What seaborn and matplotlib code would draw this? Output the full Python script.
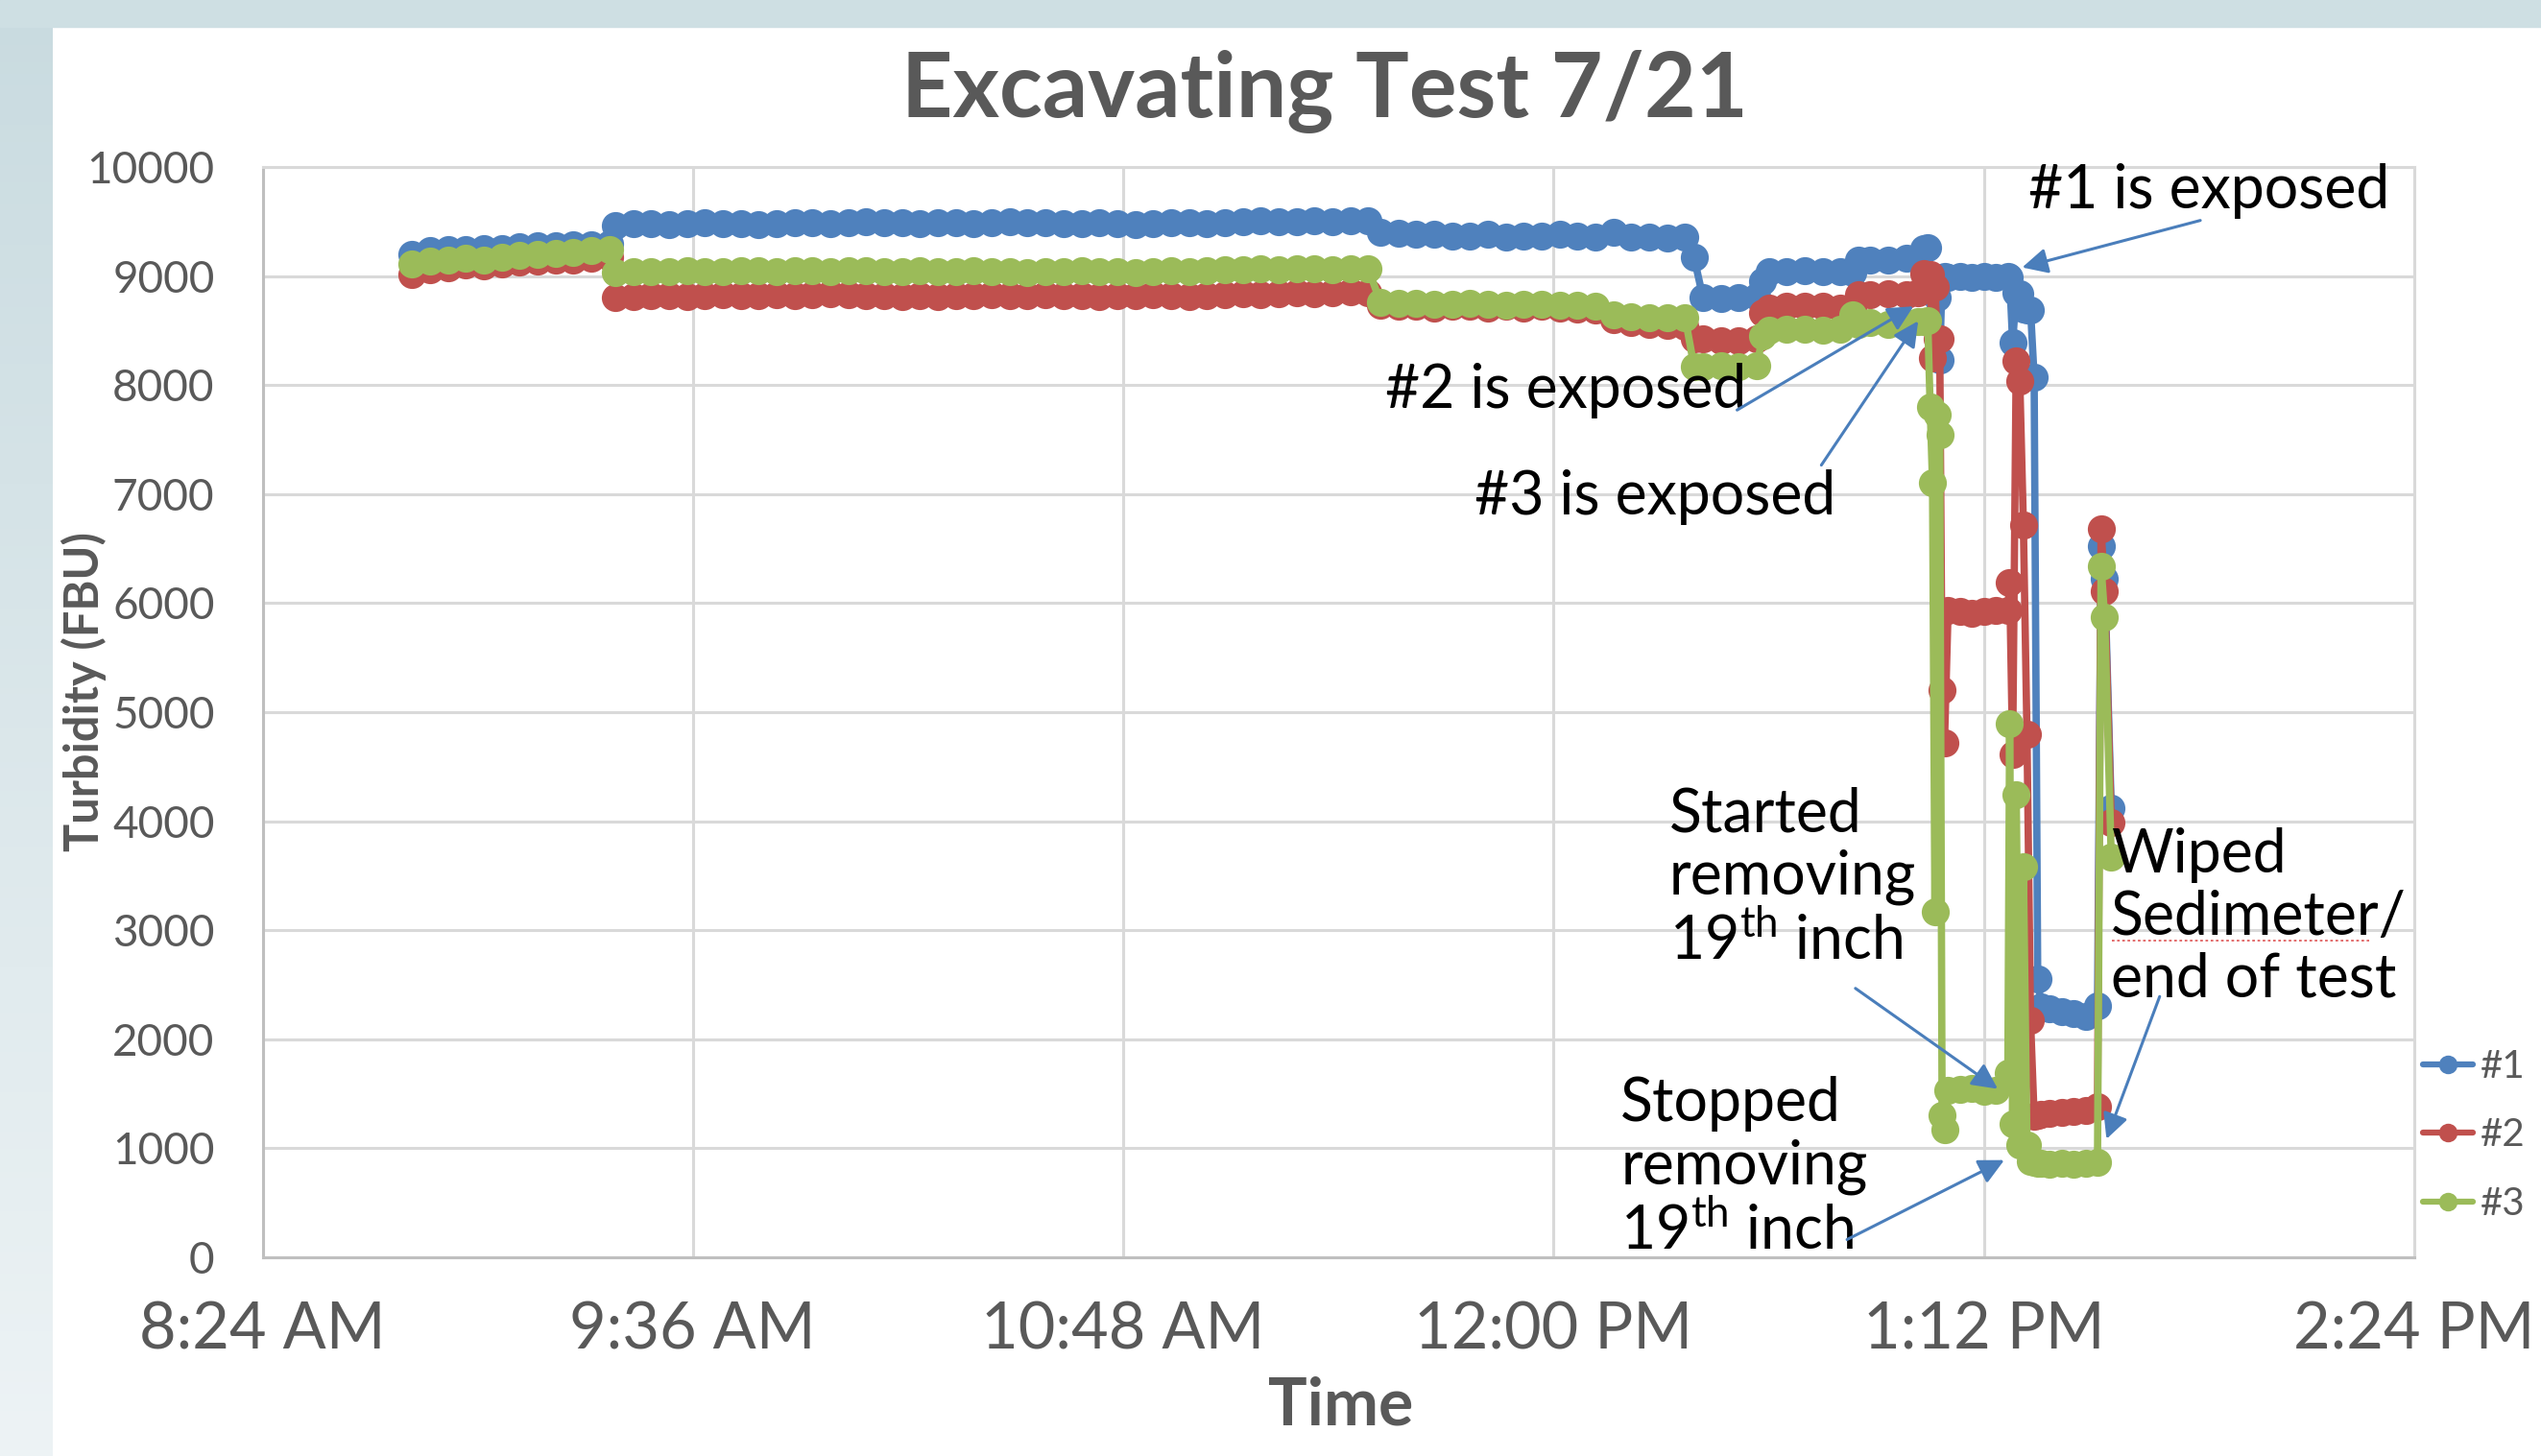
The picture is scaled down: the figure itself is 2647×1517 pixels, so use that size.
import numpy as np
import pandas as pd
import seaborn as sns
import matplotlib.pyplot as plt
import matplotlib.dates as mdates
from matplotlib.colors import LinearSegmentedColormap
from matplotlib.lines import Line2D
from matplotlib.patches import Rectangle

# sample clock times on 7/21
times = [
    "08:49:00", "08:52:00", "08:55:00", "08:58:00", "09:01:00", "09:04:00", "09:07:00", "09:10:00", "09:13:00", "09:16:00", "09:19:00", "09:22:00",
    "09:23:00", "09:26:00", "09:29:00", "09:32:00", "09:35:00", "09:38:00", "09:41:00", "09:44:00", "09:47:00", "09:50:00", "09:53:00", "09:56:00", "09:59:00",
    "10:02:00", "10:05:00", "10:08:00", "10:11:00", "10:14:00", "10:17:00", "10:20:00", "10:23:00", "10:26:00", "10:29:00",
    "10:32:00", "10:35:00", "10:38:00", "10:41:00", "10:44:00", "10:47:00", "10:50:00", "10:53:00", "10:56:00", "10:59:00",
    "11:02:00", "11:05:00", "11:08:00", "11:11:00", "11:14:00", "11:17:00", "11:20:00", "11:23:00", "11:26:00", "11:29:00",
    "11:31:00", "11:34:00", "11:37:00", "11:40:00", "11:43:00", "11:46:00", "11:49:00", "11:52:00", "11:55:00", "11:58:00",
    "12:01:00", "12:04:00", "12:07:00", "12:10:00", "12:13:00", "12:16:00", "12:19:00", "12:22:00",
    "12:23:30",
    "12:25:00", "12:28:00", "12:31:00", "12:34:00",
    "12:35:00",
    "12:36:00", "12:39:00", "12:42:00", "12:45:00", "12:48:00", "12:50:00",
    "12:51:00",
    "12:53:00", "12:56:00", "12:59:00", "13:01:00",
    "13:02:00", "13:02:36",
    "13:03:00", "13:03:24", "13:03:48", "13:04:12", "13:04:36", "13:05:00", "13:05:24", "13:06:00",
    "13:08:00", "13:10:00", "13:12:00", "13:14:00",
    "13:16:00", "13:16:18", "13:16:48", "13:17:24", "13:18:00", "13:18:36", "13:19:12", "13:19:48", "13:20:24", "13:21:00", "13:21:36",
    "13:23:00", "13:25:00", "13:27:00", "13:29:00", "13:31:00",
    "13:31:36", "13:32:12", "13:33:18",
]

sensor1 = [
    9200, 9230, 9240, 9240, 9250, 9250, 9270, 9280, 9280, 9290, 9290, 9300,
    9460, 9480, 9480, 9470, 9480, 9490, 9480, 9480, 9470, 9480, 9490, 9490, 9480,
    9490, 9500, 9490, 9490, 9480, 9490, 9490, 9480, 9490, 9500,
    9490, 9490, 9480, 9480, 9490, 9480, 9470, 9480, 9490, 9490,
    9480, 9490, 9500, 9510, 9500, 9500, 9510, 9500, 9510, 9510,
    9400, 9390, 9380, 9380, 9370, 9370, 9380, 9360, 9370, 9370,
    9380, 9370, 9360, 9400, 9360, 9360, 9350, 9360,
    9170,
    8800, 8790, 8800, 8810,
    8950,
    9040, 9040, 9050, 9040, 9040, 9030,
    9150,
    9150, 9150, 9160, 9160,
    9250, 9260,
    9000, 8980, 8860, 8800, 8230, 8980, 9000, 8990,
    9000, 8990, 9000, 8990,
    9000, 8990, 8390, 8850, 8840, 8700, 8690, 8690, 8070, 2550, 2300,
    2280, 2250, 2240, 2210, 2310,
    6520, 6220, 4120,
]

sensor2 = [
    9010, 9060, 9080, 9100, 9090, 9110, 9130, 9140, 9150, 9150, 9160, 9170,
    8800, 8810, 8820, 8820, 8810, 8820, 8830, 8820, 8820, 8830, 8820, 8830, 8840,
    8830, 8820, 8820, 8810, 8820, 8810, 8820, 8820, 8830, 8820,
    8820, 8830, 8820, 8820, 8810, 8820, 8820, 8830, 8820, 8810,
    8820, 8830, 8840, 8830, 8840, 8850, 8840, 8850, 8860, 8850,
    8730, 8720, 8720, 8710, 8720, 8720, 8710, 8720, 8710, 8720,
    8710, 8700, 8690, 8600, 8570, 8560, 8550, 8540,
    8420,
    8420, 8410, 8410, 8420,
    8660,
    8710, 8720, 8720, 8720, 8710, 8700,
    8830,
    8830, 8840, 8830, 8850,
    9020, 8880,
    9010, 8250, 8900, 8420, 8420, 5200, 4720, 5930,
    5920, 5910, 5920, 5930,
    5930, 6190, 4610, 8220, 8040, 6720, 4800, 2170, 1290, 1300, 1310,
    1320, 1330, 1340, 1350, 1380,
    6680, 6110, 3990,
]

sensor3 = [
    9110, 9140, 9150, 9160, 9150, 9170, 9190, 9200, 9210, 9220, 9230, 9240,
    9030, 9040, 9040, 9040, 9050, 9040, 9040, 9050, 9050, 9040, 9050, 9050, 9040,
    9050, 9050, 9040, 9040, 9050, 9040, 9040, 9050, 9040, 9040,
    9030, 9040, 9040, 9050, 9040, 9040, 9030, 9040, 9050, 9040,
    9050, 9060, 9060, 9070, 9060, 9070, 9070, 9060, 9070, 9070,
    8760, 8750, 8750, 8740, 8740, 8750, 8740, 8730, 8740, 8740,
    8730, 8730, 8720, 8640, 8630, 8620, 8620, 8620,
    8170,
    8170, 8180, 8170, 8180,
    8450,
    8500, 8510, 8510, 8500, 8510, 8640,
    8560,
    8570, 8560, 8570, 8580,
    8580, 8590,
    7800, 7100, 3170, 7730, 7540, 1300, 1170, 1530,
    1540, 1550, 1520, 1530,
    1690, 4890, 1220, 4240, 1030, 3580, 1030, 880, 870, 860, 860,
    850, 860, 850, 860, 870,
    6340, 5870, 3670,
]

sensors = ["#1", "#2", "#3"]
colors = ["#4f81bd", "#c0504d", "#9bbb59"]
tick_times = ["08:24", "09:36", "10:48", "12:00", "13:12", "14:24"]
y_ticks = list(range(0, 10001, 1000))

day = "2014-07-21 "


def when(s):
    return mdates.date2num(pd.Timestamp(day + s))


sns.set_theme(style="white")
plt.rcParams["font.family"] = ["Lato", "DejaVu Sans"]
plt.rcParams["mathtext.fontset"] = "custom"
plt.rcParams["mathtext.rm"] = "Lato"

df = pd.DataFrame({"Time": pd.to_datetime([day + t for t in times]),
                   "#1": sensor1, "#2": sensor2, "#3": sensor3})
long = df.melt(id_vars="Time", var_name="Sensor", value_name="FBU")

W, H = 2647, 1517
fig = plt.figure(figsize=(W / 100, H / 100), dpi=100, facecolor="white")

# slide background strips
bg = fig.add_axes([0, 0, 55 / W, 1])
bg.imshow(np.linspace(0, 1, 256).reshape(-1, 1), aspect="auto",
          cmap=LinearSegmentedColormap.from_list("bg", ["#c9dbe0", "#edf3f5"]))
bg.axis("off")
fig.patches.append(Rectangle((0, 1 - 28 / H), 1, 28 / H, transform=fig.transFigure,
                             color="#cedfe3", zorder=0))

ax = fig.add_axes([273.5 / W, 1 - 1310 / H, 2241.5 / W, 1136 / H])
sns.lineplot(data=long, x="Time", y="FBU", hue="Sensor", hue_order=sensors,
             palette=colors, estimator=None, marker="o", markersize=21,
             markeredgewidth=0, linewidth=5.5, legend=False, ax=ax)

ax.set_xlim(when(tick_times[0] + ":00"), when(tick_times[-1] + ":00"))
ax.set_ylim(0, 10000)
ax.set_xticks([when(t + ":00") for t in tick_times])
ax.xaxis.set_major_formatter(mdates.DateFormatter("%-I:%M %p"))
ax.set_yticks(y_ticks)
ax.set_axisbelow(True)
ax.grid(True, color="#d9d9d9", linewidth=2.2)
for side, sp in ax.spines.items():
    sp.set_color("#bfbfbf" if side in ("left", "bottom") else "#d9d9d9")
    sp.set_linewidth(2.2)
ax.tick_params(axis="both", length=0, colors="#595959")
ax.tick_params(axis="x", labelsize=48, pad=33)
ax.tick_params(axis="y", labelsize=33, pad=36)

ax.set_title("Excavating Test 7/21", x=0.4937, y=1.062, va="center",
             fontsize=67, fontweight="bold", color="#595959")
ax.set_xlabel("Time", fontsize=49, fontweight="bold", color="#595959")
ax.xaxis.set_label_coords(0.501, -0.1364)
ax.xaxis.label.set_va("center")
ax.set_ylabel("Turbidity (FBU)", fontsize=35, fontweight="bold", color="#595959")
ax.yaxis.set_label_coords(-0.0828, 0.519)
ax.yaxis.label.set_va("center")

# annotations
arrow = dict(arrowstyle="-|>", color="#4a7ebb", lw=2.2, mutation_scale=40,
             shrinkA=0, shrinkB=0)
notes = [
    ("#1 is exposed", "13:19:30", 9777, "13:18:24", 9079, "13:48:12", 9510),
    ("#2 is exposed", "11:31:54", 7950, "13:00:12", 8722, "12:30:42", 7771),
    ("#3 is exposed", "11:46:48", 6969, "13:01:00", 8588, "12:44:48", 7266),
    ("Started\nremoving\n19$^{\\mathrm{th}}$ inch", "12:19:18", 3477,
     "13:14:18", 1545, "12:50:30", 2467),
    ("Stopped\nremoving\n19$^{\\mathrm{th}}$ inch", "12:11:12", 817,
     "13:15:24", 892, "12:49:06", 163),
    ("Wiped\nSedimeter/\nend of test", "13:33:18", 3120,
     "13:32:30", 1085, "13:41:24", 2392),
]
for label, tx, ty, hx, hy, sx, sy in notes:
    ax.text(when(tx), ty, label, ha="left", va="center", fontsize=45,
            color="black", linespacing=1.15)
    ax.annotate("", xy=(when(hx), hy), xytext=(when(sx), sy), arrowprops=arrow)

# spell-check mark under "Sedimeter"
fig.add_artist(Line2D([2200 / W, 2468 / W], [1 - 980 / H, 1 - 980 / H],
                      transform=fig.transFigure, color="#e06060", lw=1.3,
                      linestyle=(0, (1.5, 1.5))))

handles = [Line2D([], [], color=c, marker="o", markersize=14, markeredgewidth=0,
                  linewidth=4.5) for c in colors]
fig.legend(handles, sensors, loc="center left", bbox_to_anchor=(2524 / W, 1 - 1183 / H),
           frameon=False, fontsize=29, handlelength=1.3, handletextpad=0.2,
           labelspacing=0.85, borderpad=0, borderaxespad=0, labelcolor="#595959")

fig.savefig("out.png", dpi=100)
